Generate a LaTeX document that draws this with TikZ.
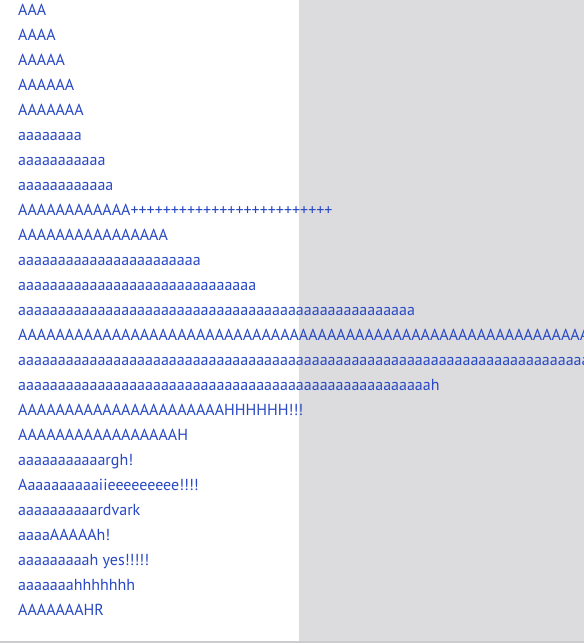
\documentclass[tikz,border=0pt]{standalone}
\usepackage{fontspec}
\setmainfont{PT Sans}
\definecolor{screamblue}{RGB}{40,72,196}
\definecolor{panegray}{RGB}{220,220,223}
\definecolor{edgegray}{RGB}{204,204,206}

\begin{document}
\begin{tikzpicture}[
		x=1pt, y=-1pt,
		every node/.style={anchor=base west, inner sep=0pt, text=screamblue,
			font=\fontsize{16}{16}\selectfont},
		pane/.style={fill=panegray, draw=none}
		]
		\useasboundingbox (0,0) rectangle (584,643);
		\clip (0,0) rectangle (584,643);
		\fill[white] (0,0) rectangle (584,643);
		\fill[pane] (299,0) rectangle (584,643);
		\fill[edgegray] (0,641) rectangle (584,643);
		\foreach \scream [count=\i from 0] in {
			AAA,
			AAAA,
			AAAAA,
			AAAAAA,
			AAAAAAA,
			aaaaaaaa,
			aaaaaaaaaaa,
			aaaaaaaaaaaa,
			AAAAAAAAAAAA+++++++++++++++++++++++++,
			AAAAAAAAAAAAAAAA,
			aaaaaaaaaaaaaaaaaaaaaaa,
			aaaaaaaaaaaaaaaaaaaaaaaaaaaaaa,
			aaaaaaaaaaaaaaaaaaaaaaaaaaaaaaaaaaaaaaaaaaaaaaaaaa,
			AAAAAAAAAAAAAAAAAAAAAAAAAAAAAAAAAAAAAAAAAAAAAAAAAAAAAAAAAAAAAAAAAAAAAAAA,
			aaaaaaaaaaaaaaaaaaaaaaaaaaaaaaaaaaaaaaaaaaaaaaaaaaaaaaaaaaaaaaaaaaaaaaaaaaaaaaaa,
			aaaaaaaaaaaaaaaaaaaaaaaaaaaaaaaaaaaaaaaaaaaaaaaaaaaah,
			AAAAAAAAAAAAAAAAAAAAAAHHHHHH!!!,
			AAAAAAAAAAAAAAAAAH,
			aaaaaaaaaaargh!,
			Aaaaaaaaaaiieeeeeeeee!!!!,
			aaaaaaaaaardvark,
			aaaaAAAAAh!,
			aaaaaaaaah yes!!!!!,
			aaaaaaahhhhhhh,
			AAAAAAAHR}
		\node (scream\i) at (18,15+25*\i) {\scream};
\end{tikzpicture}
\end{document}
